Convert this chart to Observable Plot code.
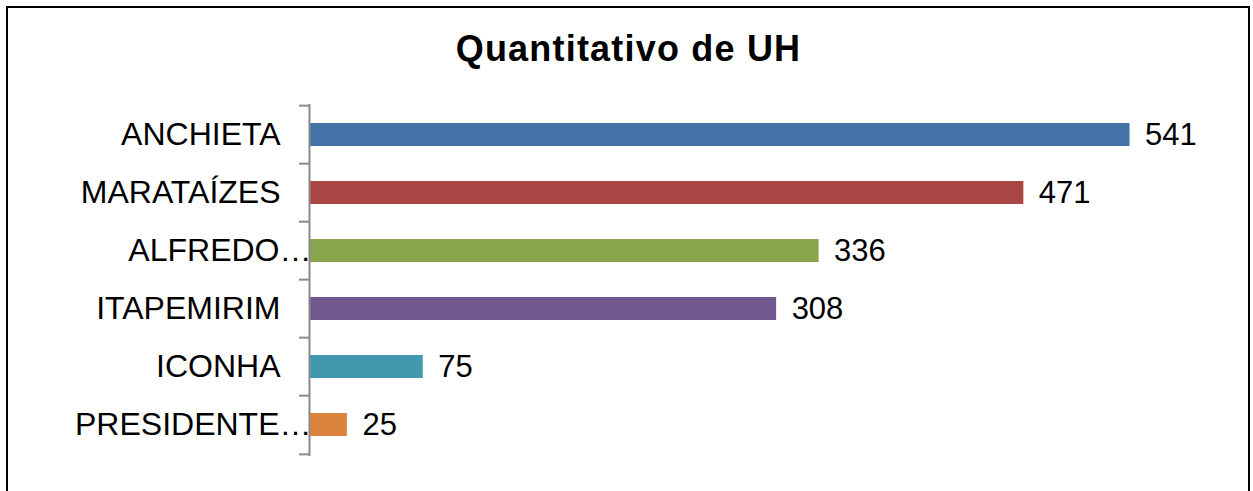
<!DOCTYPE html>
<html>
<head>
<meta charset="utf-8">
<script src="https://cdn.jsdelivr.net/npm/d3@7"></script>
<script src="https://cdn.jsdelivr.net/npm/@observablehq/plot@0.6"></script>
<style>
  html, body { margin: 0; padding: 0; background: #fff; }
  #wrap { position: relative; width: 1253px; height: 491px; overflow: hidden; font-family: "Liberation Sans", Arial, sans-serif; }
  #frame { position: absolute; left: 6px; top: 6px; width: 1244px; height: 520px; border: 2px solid #000; box-sizing: border-box; pointer-events: none; }
  #title { height: 80px; box-sizing: border-box; padding-top: 31px; line-height: 36px; text-align: center; font-size: 36px; font-weight: bold; letter-spacing: 1.2px; color: #000; padding-left: 4px; }
  svg { display: block; }
</style>
</head>
<body>
<div id="wrap">
  <div id="title">Quantitativo de UH</div>
  <div id="chart"></div>
  <div id="frame"></div>
</div>
<script>
const categories = ["ANCHIETA", "MARATAÍZES", "ALFREDO CHAVES", "ITAPEMIRIM", "ICONHA", "PRESIDENTE KENNEDY"];
const values = [541, 471, 336, 308, 75, 25];
const palette = ["#4572A7", "#AA4643", "#89A54E", "#71588F", "#4198AF", "#DB843D"];

const data = categories.map((name, i) => ({name, value: values[i]}));

const W = 1253, H = 411, mTop = 24, mBottom = 35, mLeft = 309, mRight = 34;
const step = (H - mTop - mBottom) / categories.length;
const font = "Liberation Sans, Arial, sans-serif";
const shortName = d => d.includes(" ") ? d.split(" ")[0] + "…" : d;

const plot = Plot.plot({
  width: W,
  height: H,
  marginTop: mTop,
  marginBottom: mBottom,
  marginLeft: mLeft,
  marginRight: mRight,
  style: {fontFamily: font, background: "transparent", overflow: "visible"},
  x: {domain: [0, 600], axis: null},
  y: {domain: categories, paddingInner: 0.6, paddingOuter: 0.3, label: null},
  color: {domain: categories, range: palette},
  marks: [
    Plot.barX(data, {x: "value", y: "name", fill: "name", insetLeft: 1}),
    Plot.ruleX([0], {stroke: "#898989", strokeWidth: 2}),
    Plot.ruleY(categories, {y: d => d, x1: 0, x2: 0, insetLeft: -10, dy: -step / 2, stroke: "#898989", strokeWidth: 2}),
    Plot.ruleY([categories[categories.length - 1]], {y: d => d, x1: 0, x2: 0, insetLeft: -10, dy: step / 2, stroke: "#898989", strokeWidth: 2}),
    Plot.text(data, {x: "value", y: "name", text: d => String(d.value), textAnchor: "start", dx: 15, fontSize: 31, fill: "#000"}),
    Plot.axisY({tickSize: 0, tickPadding: 29, fontSize: 32, tickFormat: shortName, label: null, color: "#000"})
  ]
});

document.getElementById("chart").appendChild(plot);

// Truncated labels overhang the axis like the original
d3.select(plot).selectAll("[aria-label='y-axis tick label'] text").each(function() {
  const t = d3.select(this);
  if (t.text().includes("…")) {
    const cur = +t.attr("dx") || 0;
    t.attr("dx", cur + 31);
  }
});
</script>
</body>
</html>
